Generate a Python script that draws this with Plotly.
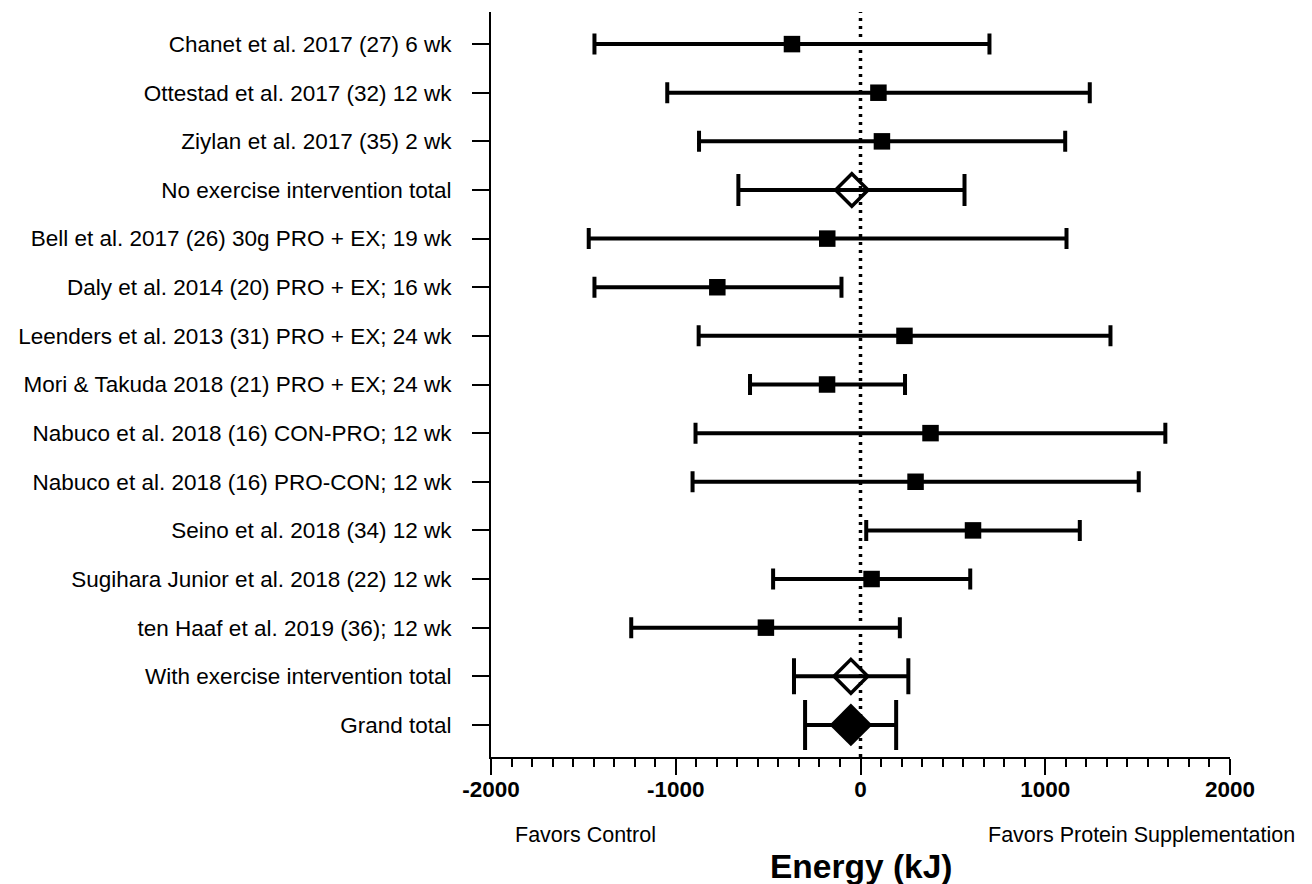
import plotly.graph_objects as go

labels = [
    "Chanet et al. 2017 (27) 6 wk",
    "Ottestad et al. 2017 (32) 12 wk",
    "Ziylan et al. 2017 (35) 2 wk",
    "No exercise intervention total",
    "Bell et al. 2017 (26) 30g PRO + EX; 19 wk",
    "Daly et al. 2014 (20) PRO + EX; 16 wk",
    "Leenders et al. 2013 (31) PRO + EX; 24 wk",
    "Mori & Takuda 2018 (21) PRO + EX; 24 wk",
    "Nabuco et al. 2018 (16) CON-PRO; 12 wk",
    "Nabuco et al. 2018 (16) PRO-CON; 12 wk",
    "Seino et al. 2018 (34) 12 wk",
    "Sugihara Junior et al. 2018 (22) 12 wk",
    "ten Haaf et al. 2019 (36); 12 wk",
    "With exercise intervention total",
    "Grand total",
]
means = [-371, 97, 116, -47, -180, -775, 238, -181, 379, 298, 609, 60, -512, -52, -52]
lower = [-1440, -1046, -874, -661, -1471, -1440, -876, -598, -893, -909, 31, -473, -1241, -360, -300]
upper = [698, 1241, 1108, 563, 1115, -103, 1353, 241, 1650, 1506, 1187, 594, 213, 259, 193]

study_idx = [0, 1, 2, 4, 5, 6, 7, 8, 9, 10, 11, 12]
noex_idx = [3]
withex_idx = [13]
grand_idx = [14]

FONT = "Liberation Sans, Arial, Helvetica, sans-serif"

fig = go.Figure()


def add_group(idx, symbol, size, cap, line_w=0):
    xs = [means[i] for i in idx]
    ys = [i for i in idx]
    plus = [upper[i] - means[i] for i in idx]
    minus = [means[i] - lower[i] for i in idx]
    fig.add_trace(go.Scatter(
        x=xs, y=ys, mode="markers",
        marker=dict(symbol=symbol, size=size, color="black",
                    line=dict(color="black", width=line_w)),
        error_x=dict(type="data", symmetric=False, array=plus, arrayminus=minus,
                     color="black", thickness=4, width=cap),
        showlegend=False, hoverinfo="skip",
    ))


add_group(study_idx, "square", 16.5, 10.5)
add_group(noex_idx, "diamond-open", 25, 16, 3.5)
add_group(withex_idx, "diamond-open", 26, 18, 3.5)
add_group(grand_idx, "diamond", 33, 25)

fig.add_shape(type="line", x0=0, x1=0, xref="x", yref="paper", y0=0, y1=1,
              line=dict(color="black", width=3.5, dash="3px,5px"), layer="below")

fig.update_layout(
    width=1304, height=876,
    margin=dict(l=483, r=82, t=4, b=127, autoexpand=False),
    paper_bgcolor="white", plot_bgcolor="white",
    font=dict(family=FONT, color="black"),
    xaxis=dict(
        range=[-2000, 2000], tickvals=[-2000, -1000, 0, 1000, 2000],
        ticktext=["<b>-2000</b>", "<b>-1000</b>", "<b>0</b>", "<b>1000</b>", "<b>2000</b>"],
        ticks="outside", ticklen=16, tickwidth=2, tickcolor="black",
        showline=True, linecolor="black", linewidth=2,
        showgrid=False, zeroline=False,
        tickfont=dict(size=22.5, family=FONT, color="black"),
        ticklabelstandoff=-5,
        minor=dict(tick0=-2000, dtick=1000 / 9, ticks="outside", ticklen=8,
                   tickwidth=2, tickcolor="black", showgrid=False),
        automargin=False,
    ),
    yaxis=dict(
        range=[14.66, -0.66], tickvals=list(range(len(labels))), ticktext=labels,
        ticks="outside", ticklen=17, tickwidth=2, tickcolor="black",
        showline=True, linecolor="black", linewidth=2,
        showgrid=False, zeroline=False,
        tickfont=dict(size=22.5, family=FONT, color="black"),
        ticklabelstandoff=16,
        automargin=False,
    ),
)

fig.add_annotation(text="Favors Control", xref="paper", yref="paper",
                   x=0.0298, y=-0.1041, xanchor="left", yanchor="middle",
                   showarrow=False, font=dict(size=21.5, family=FONT, color="black"))
fig.add_annotation(text="Favors Protein Supplementation", xref="paper", yref="paper",
                   x=1.0907, y=-0.1041, xanchor="right", yanchor="middle",
                   showarrow=False, font=dict(size=21.5, family=FONT, color="black"))
fig.add_annotation(text="<b>Energy (kJ)</b>", xref="paper", yref="paper",
                   x=0.5, y=-0.1468, xanchor="center", yanchor="middle",
                   showarrow=False, font=dict(size=33.5, family=FONT, color="black"))

fig.write_html("out.html")
